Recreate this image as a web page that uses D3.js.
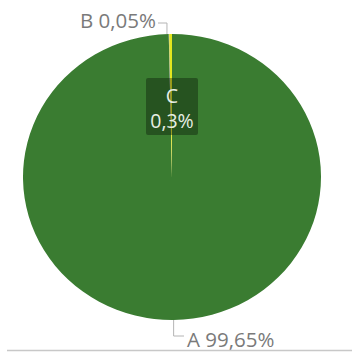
<!DOCTYPE html>
<html>
<head>
<meta charset="utf-8">
<script src="https://cdn.jsdelivr.net/npm/d3@7"></script>
<style>
  html, body { margin: 0; padding: 0; background: #ffffff; }
  svg { display: block; }
</style>
</head>
<body>
<svg id="chart" width="352" height="355"></svg>
<script>
// Share of each category, in percent
const categories = ["A", "B", "C"];
const values = [99.65, 0.05, 0.3];
const valueLabels = ["99,65%", "0,05%", "0,3%"];
const colors = ["#3a7c31", "#8a8a8a", "#e3e61e"];

const svg = d3.select("#chart");
const cx = 172, cy = 177, rx = 149, ry = 143;

const pie = d3.pie().sort(null).value(d => d);
const arcs = pie(values);
const arc = d3.arc().innerRadius(0).outerRadius(rx);

const g = svg.append("g")
  .attr("transform", `translate(${cx},${cy}) scale(1,${ry / rx})`);

g.selectAll("path")
  .data(arcs)
  .join("path")
  .attr("d", arc)
  .attr("fill", (d, i) => colors[i]);

// point on the outer edge at a slice's mid angle
function edgePoint(d) {
  const a = (d.startAngle + d.endAngle) / 2;
  return [cx + rx * Math.sin(a), cy - ry * Math.cos(a)];
}

const font = "'Open Sans', 'Noto Sans', sans-serif";
const leaderColor = "#b4b4b4";
const labelColor = "#7a7a7a";

// A: leader from the bottom edge, then label to the right
{
  const [x, y] = edgePoint(arcs[0]);
  svg.append("path")
    .attr("d", `M${x},${y} V336 H184`)
    .attr("fill", "none").attr("stroke", leaderColor).attr("stroke-width", 1);
  svg.append("text")
    .attr("x", 187).attr("y", 347)
    .attr("font-family", font).attr("font-size", 20.5)
    .attr("fill", labelColor)
    .text(`${categories[0]} ${valueLabels[0]}`);
}

// B: leader from the top edge, label to the left
{
  const [x, y] = edgePoint(arcs[1]);
  svg.append("path")
    .attr("d", `M${x - 2},${y} V23 H158`)
    .attr("fill", "none").attr("stroke", leaderColor).attr("stroke-width", 1);
  svg.append("text")
    .attr("x", 156).attr("y", 28)
    .attr("text-anchor", "end")
    .attr("font-family", font).attr("font-size", 20.5)
    .attr("fill", labelColor)
    .text(`${categories[1]} ${valueLabels[1]}`);
}

// C: boxed label inside the pie
{
  const lg = svg.append("g").attr("transform", "translate(172,105)");
  lg.append("rect")
    .attr("x", -26).attr("y", -27).attr("width", 52).attr("height", 57)
    .attr("rx", 2)
    .attr("fill", "#000").attr("fill-opacity", 0.33);
  lg.append("text")
    .attr("y", -2).attr("text-anchor", "middle")
    .attr("font-family", font).attr("font-size", 19.5)
    .attr("fill", "#e6eee4")
    .text(categories[2]);
  lg.append("text")
    .attr("y", 23).attr("text-anchor", "middle")
    .attr("font-family", font).attr("font-size", 19.5)
    .attr("fill", "#e6eee4")
    .text(valueLabels[2]);
}

// frame line along the bottom
svg.append("line")
  .attr("x1", 7).attr("x2", 352).attr("y1", 350.5).attr("y2", 350.5)
  .attr("stroke", "#c8c8c8").attr("stroke-width", 1.5);
</script>
</body>
</html>
